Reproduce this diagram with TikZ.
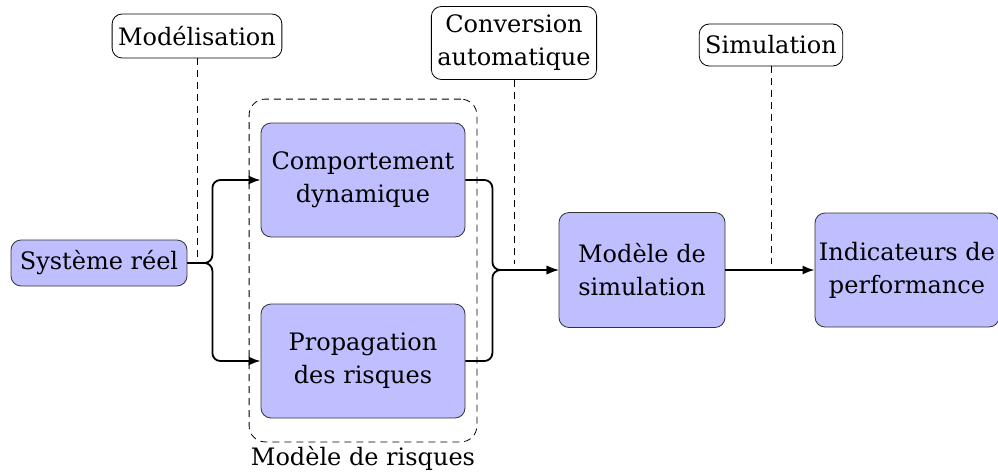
\documentclass[tikz,border=0pt]{standalone}
\usepackage{fontspec}
\setmainfont{DejaVu Serif}
\usetikzlibrary{positioning, arrows.meta, fit}
\tikzset{
    >={Latex[length=6pt, width=4.5pt]}, % pointes de fleche pleines
    bloc/.style={draw=black!80, fill=blue!25, rounded corners=5pt, align=center, inner sep=2pt}, % boites des modeles
    etape/.style={draw, fill=white, rounded corners=5pt, align=center, inner sep=3pt}, % etiquettes des etapes
    lien/.style={line width=0.9pt, rounded corners=4pt}, % fleches entre les boites
    repere/.style={thin, dash pattern=on 3.5pt off 2.5pt}, % traits pointilles
}

\begin{document}
\begin{tikzpicture}[x=0.5pt, y=-0.5pt, font=\fontsize{12}{16.5}\selectfont]
    \useasboundingbox (0,0) rectangle (998,472);

    % boites principales
    \node[bloc, minimum width=88pt, minimum height=23pt] (sys) at (99,263) {Système réel};
    \node[bloc, minimum width=102pt, minimum height=57pt] (comp) at (363,180) {Comportement\\dynamique};
    \node[bloc, minimum width=102pt, minimum height=57pt] (prop) at (363,361) {Propagation\\des risques};
    \node[bloc, minimum width=83pt, minimum height=57.5pt] (sim) at (642,270) {Modèle de\\simulation};
    \node[bloc, minimum width=90pt, minimum height=57pt] (ind) at (907,270) {Indicateurs de\\performance};

    % groupe du modele de risques
    \node[draw, repere, rounded corners=8pt, fit=(comp)(prop), inner xsep=5.75pt, inner ysep=11.75pt,
          label={[inner sep=2pt]below:Modèle de risques}] (risq) {};

    % etapes
    \node[etape, minimum height=22pt] (model) at (197,36) {Modélisation};
    \node[etape, minimum height=36.5pt] (conv) at (514,43) {Conversion\\automatique};
    \node[etape, minimum height=21pt] (simu) at (771,45) {Simulation};

    \coordinate (pmodel) at (197,259);
    \coordinate (pconv) at (514,264);
    \coordinate (psimu) at (771,264);
    \draw[repere] (model) -- (pmodel);
    \draw[repere] (conv) -- (pconv);
    \draw[repere] (simu) -- (psimu);

    % fleches
    \draw[lien,->] (sys.east) -- ++(25,0) |- (comp.west);
    \draw[lien,->] (sys.east) -- ++(25,0) |- (prop.west);
    \draw[lien,->] (comp.east) -- ++(27,0) |- (sim.west);
    \draw[lien,->] (prop.east) -- ++(27,0) |- (sim.west);
    \draw[lien,->] (sim) -- (ind);
\end{tikzpicture}
\end{document}
